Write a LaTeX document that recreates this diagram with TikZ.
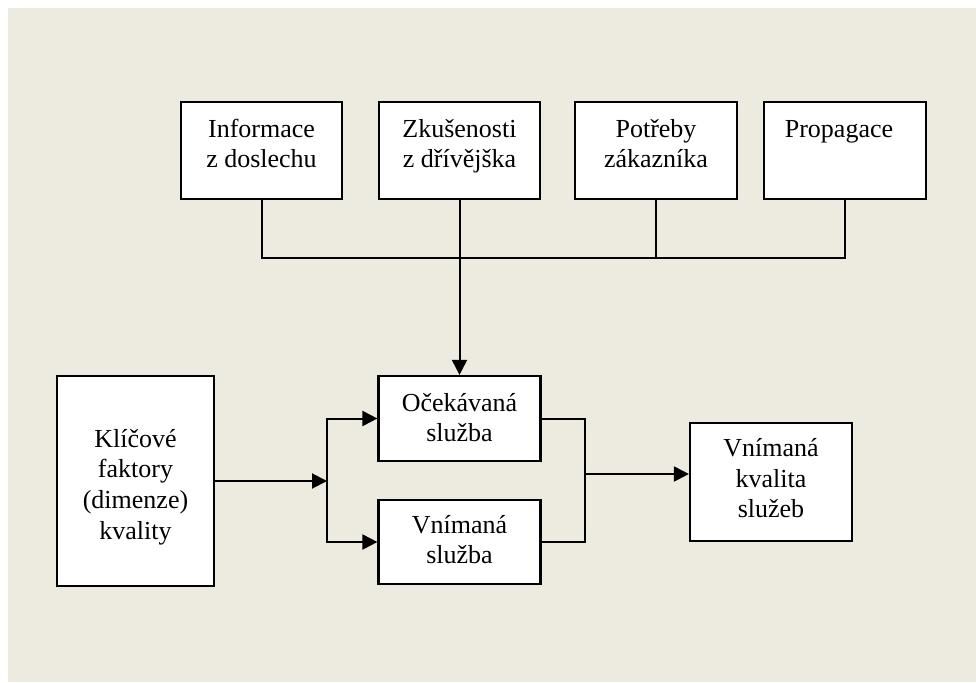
\documentclass[tikz,border=0pt]{standalone}
\usepackage{fontspec}
\setmainfont{Liberation Serif}
\usetikzlibrary{arrows.meta}
\definecolor{paper}{RGB}{237,234,224}
\begin{document}
\begin{tikzpicture}[x=1pt,y=-1pt,
  box/.style={draw=black, fill=white, line width=2.2pt, inner sep=0pt},
  lbl/.style={align=center, inner sep=0pt, anchor=north,
    font=\fontsize{26}{30.7}\selectfont},
  wire/.style={line width=2pt, line cap=rect},
  arr/.style={wire, -{Triangle[length=15pt,width=15pt]}}
]
% page and backdrop
\useasboundingbox (0,0) rectangle (976,682);
\fill[white] (0,0) rectangle (976,682);
\fill[paper] (8,8) rectangle (976,682);

% upper row of sources
\node[box, minimum width=161, minimum height=97] (inf)  at (261.5,150.5) {};
\node[box, minimum width=161, minimum height=97] (zku)  at (459.5,150.5) {};
\node[box, minimum width=162, minimum height=97] (pot)  at (656,150.5) {};
\node[box, minimum width=162, minimum height=97] (prop) at (845,150.5) {};

% lower row
\node[box, minimum width=157, minimum height=210] (kli)  at (135.5,481) {};
\node[box, minimum width=162, minimum height=85]  (oce)  at (459.5,418.5) {};
\node[box, minimum width=162, minimum height=84]  (vns)  at (459.5,542) {};
\node[box, minimum width=162, minimum height=118] (kval) at (771,482) {};

% labels (yshift is a page dimension, so downwards is negative)
\node[lbl] (infT)  at ([yshift=-14.5]inf.north)  {\strut Informace\\z doslechu};
\node[lbl] (zkuT)  at ([yshift=-14.5]zku.north)  {\strut Zkušenosti\\z dřívějška};
\node[lbl] (potT)  at ([yshift=-14.5]pot.north)  {\strut Potřeby\\zákazníka};
\node[lbl] (propT) at ([xshift=-6,yshift=-14.5]prop.north) {\strut Propagace};
\node[lbl] (kliT)  at ([yshift=-50.5]kli.north)  {\strut Klíčové\\faktory\\(dimenze)\\kvality};
\node[lbl] (oceT)  at ([yshift=-14.5]oce.north)  {\strut Očekávaná\\služba};
\node[lbl] (vnsT)  at ([yshift=-12.5]vns.north)  {\strut Vnímaná\\služba};
\node[lbl] (kvalT) at ([yshift=-13]kval.north)   {\strut Vnímaná\\kvalita\\služeb};

% collecting bus under the sources
\coordinate (busL) at (261.5,258);
\coordinate (busR) at (845,258);
\draw[wire] (inf.south) -- (busL) -- (busR) -- (prop.south);
\draw[wire] (pot.south) -- (pot.south |- busL);
\draw[arr] (zku.south) -- (oce.north);

% split towards the two services
\coordinate (split) at (327,481);
\draw[arr] (kli.east) -- (split);
\draw[wire] (split |- oce.west) -- (split |- vns.west);
\draw[arr] (split |- oce.west) -- (oce.west);
\draw[arr] (split |- vns.west) -- (vns.west);

% merge into perceived quality
\coordinate (merge) at (585,474);
\draw[wire] (oce.east) -- (merge |- oce.east) -- (merge |- vns.east) -- (vns.east);
\draw[arr] (merge) -- (merge -| kval.west);
\end{tikzpicture}
\end{document}
